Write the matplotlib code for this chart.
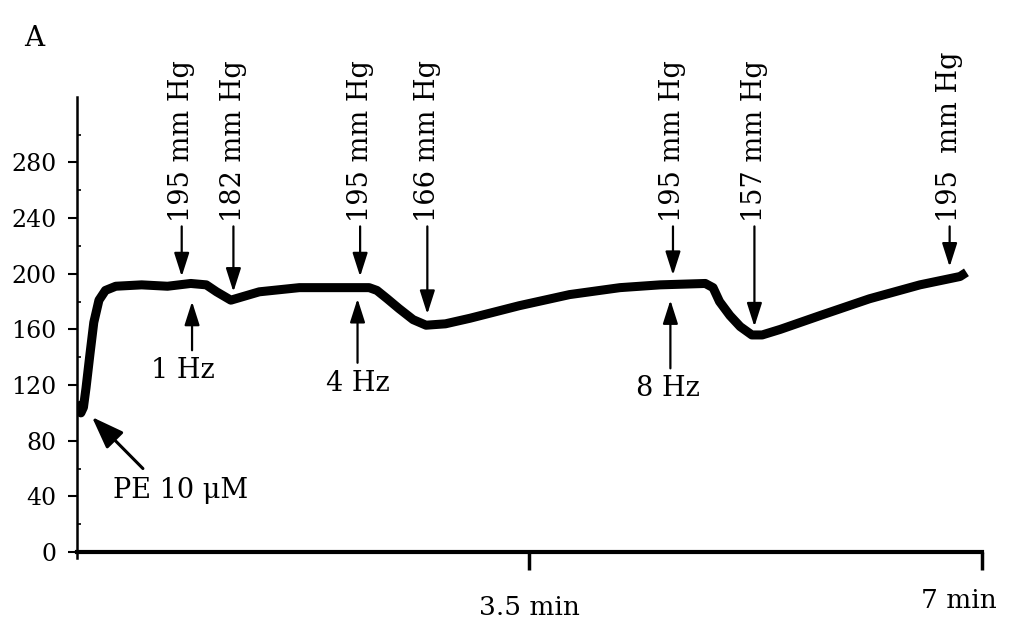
import matplotlib
matplotlib.use("Agg")
import matplotlib.pyplot as plt

plt.rcParams['font.family'] = ['DejaVu Serif']

# pressure trace (min, mm Hg)
tempo = [0.0, 0.03, 0.05, 0.07, 0.10, 0.13, 0.17, 0.22, 0.30, 0.50, 0.70, 0.88,
         1.00, 1.08, 1.19, 1.30, 1.41, 1.72, 2.00, 2.26, 2.32, 2.40, 2.49, 2.60,
         2.70, 2.85, 3.04, 3.42, 3.81, 4.20, 4.51, 4.86, 4.92, 4.97, 5.05, 5.13,
         5.22, 5.30, 5.44, 5.75, 6.13, 6.52, 6.83, 6.88]
pressao = [108, 100, 104, 118, 142, 165, 181, 188, 191, 192, 191, 193,
           192, 187, 181, 184, 187, 190, 190, 190, 188, 182, 175, 167,
           163, 164, 168, 177, 185, 190, 192, 193, 190, 180, 170, 162,
           156, 156, 160, 170, 182, 192, 198, 201]

# pressure readings marked above the trace
marcas_t = [0.81, 1.21, 2.19, 2.71, 4.61, 5.24, 6.75]
marcas_p = [198, 187, 198, 171, 199, 162, 205]
marcas_txt = ["195 mm Hg", "182 mm Hg", "195 mm Hg", "166 mm Hg",
              "195 mm Hg", "157 mm Hg", "195  mm Hg"]

# stimulation frequencies marked below the trace
estim_t = [0.89, 2.17, 4.59]
estim_p = [180, 182, 181]
estim_txt = ["1 Hz", "4 Hz", "8 Hz"]
estim_xt = [0.82, 2.17, 4.57]
estim_yt = [140, 131, 127]

yticks = [0, 40, 80, 120, 160, 200, 240, 280]

fig = plt.figure(figsize=(10.09, 6.21), dpi=100)
ax = fig.add_axes([0.0763, 0.1021, 0.8969, 0.7417])

ax.plot(tempo, pressao, color="black", linewidth=6.5, solid_joinstyle="round",
        solid_capstyle="butt")

ax.set_xlim(0, 7)
ax.set_ylim(-4, 327)

ax.spines['top'].set_visible(False)
ax.spines['right'].set_visible(False)
ax.spines['bottom'].set_position(('data', 0))
ax.spines['bottom'].set_linewidth(3)
ax.spines['left'].set_linewidth(1.8)

ax.set_yticks(yticks)
ax.set_yticks([20, 60, 100, 140, 180, 220, 260, 300], minor=True)
ax.tick_params(axis='y', which='major', direction='out', length=6.5, width=1.5,
               pad=8, labelsize=17)
ax.tick_params(axis='y', which='minor', direction='in', length=3, width=1.2)

ax.set_xticks([3.5, 7])
ax.set_xticklabels(["", ""])
ax.tick_params(axis='x', direction='out', length=13, width=2.5)
ax.text(3.5, -31, "3.5 min", ha='center', va='top', fontsize=19)
ax.text(6.82, -26, "7 min", ha='center', va='top', fontsize=19)

seta = dict(arrowstyle='-|>,head_length=0.72,head_width=0.23', color='black',
            lw=1.6, mutation_scale=20, shrinkA=1, shrinkB=0)

for t, p, txt in zip(marcas_t, marcas_p, marcas_txt):
    ax.annotate(txt, xy=(t, p), xytext=(t, 237), rotation=90,
                ha='center', va='bottom', fontsize=19.5,
                arrowprops=seta, annotation_clip=False)

for t, p, txt, xt, yt in zip(estim_t, estim_p, estim_txt, estim_xt, estim_yt):
    ax.annotate("", xy=(t, p), xytext=(t, yt + 4), arrowprops=seta)
    ax.text(xt, yt, txt, ha='center', va='top', fontsize=19.5)

ax.annotate("", xy=(0.116, 97), xytext=(0.51, 60),
            arrowprops=dict(arrowstyle='-|>,head_length=0.9,head_width=0.33',
                            color='black', lw=2.2, mutation_scale=22,
                            shrinkA=0, shrinkB=0))
ax.text(0.80, 54, "PE 10 μM", ha='center', va='top', fontsize=19.5)

fig.text(0.024, 0.938, "A", fontsize=20, ha='left', va='center')

fig.savefig("out.png", dpi=100)
